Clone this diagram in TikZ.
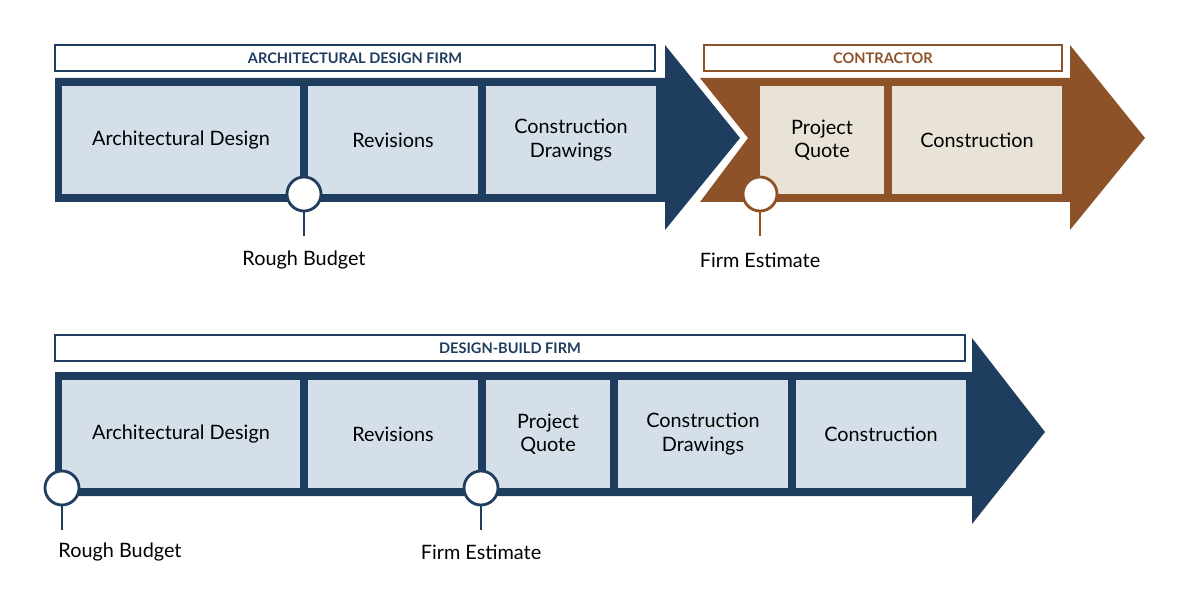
\documentclass[tikz,border=0pt]{standalone}
\usepackage{fontspec}
\setmainfont{Lato}
\definecolor{navy}{HTML}{1F3D5E}
\definecolor{paleblue}{HTML}{D5DFE9}
\definecolor{rust}{HTML}{8E5229}
\definecolor{beige}{HTML}{E9E3D7}
\tikzset{
  stage/.style={fill=paleblue, inner sep=0pt, align=center, font=\fontsize{11.3}{13.3}\selectfont},
  cstage/.style={stage, fill=beige},
  firm/.style={draw=navy, fill=white, line width=0.9pt, inner sep=0pt, text=navy, font=\fontsize{8.3}{10}\selectfont\bfseries},
  milestone/.style={circle, draw=navy, fill=white, line width=1.6pt, minimum size=34*0.02cm, inner sep=0pt},
  note/.style={font=\fontsize{11.3}{13.3}\selectfont}
}
\begin{document}
\begin{tikzpicture}[x=0.02cm, y=-0.02cm]
\useasboundingbox (0,0) rectangle (1200,601);
% top row
\fill[navy] (55,78) -- (665,78) -- (665,45) -- (740,138) -- (665,230) -- (665,202) -- (55,202) -- cycle;
\fill[rust] (700,78) -- (1070,78) -- (1070,45) -- (1145,138) -- (1070,230) -- (1070,202) -- (700,202) -- (748,138) -- cycle;
\node[firm, minimum width=600*0.02cm, minimum height=26*0.02cm] (F_0) at (355,58) {ARCHITECTURAL DESIGN FIRM};
\node[firm, draw=rust, text=rust, minimum width=358*0.02cm, minimum height=26*0.02cm] (F_1) at (883,58) {CONTRACTOR};
\node[stage, minimum width=238*0.02cm, minimum height=108*0.02cm] (S_0_0) at (181,140) {Architectural Design};
\node[stage, minimum width=170*0.02cm, minimum height=108*0.02cm] (S_0_1) at (393,140) {Revisions};
\node[stage, minimum width=170*0.02cm, minimum height=108*0.02cm] (S_0_2) at (571,140) {Construction\\Drawings};
\node[cstage, minimum width=124*0.02cm, minimum height=108*0.02cm] (S_0_3) at (822,140) {Project\\Quote};
\node[cstage, minimum width=170*0.02cm, minimum height=108*0.02cm] (S_0_4) at (977,140) {Construction};
\node[milestone] (M_0_0) at (304,194) {};
\coordinate (C_0_0) at (304,236);
\draw[navy, line width=1.6pt] (M_0_0) -- (C_0_0);
\node[note] (N_0_0) at (304,260) {Rough Budget};
\node[milestone, draw=rust] (M_0_1) at (760,194) {};
\coordinate (C_0_1) at (760,236);
\draw[rust, line width=1.6pt] (M_0_1) -- (C_0_1);
\node[note] (N_0_1) at (760,260) {Firm Estimate};
% bottom row
\fill[navy] (55,372) -- (972,372) -- (972,338) -- (1045,432) -- (972,524) -- (972,496) -- (55,496) -- cycle;
\node[firm, minimum width=910*0.02cm, minimum height=26*0.02cm] (F_2) at (510,348) {DESIGN-BUILD FIRM};
\node[stage, minimum width=238*0.02cm, minimum height=108*0.02cm] (S_1_0) at (181,434) {Architectural Design};
\node[stage, minimum width=170*0.02cm, minimum height=108*0.02cm] (S_1_1) at (393,434) {Revisions};
\node[stage, minimum width=124*0.02cm, minimum height=108*0.02cm] (S_1_2) at (548,434) {Project\\Quote};
\node[stage, minimum width=170*0.02cm, minimum height=108*0.02cm] (S_1_3) at (703,434) {Construction\\Drawings};
\node[stage, minimum width=170*0.02cm, minimum height=108*0.02cm] (S_1_4) at (881,434) {Construction};
\node[milestone] (M_1_0) at (62,488) {};
\coordinate (C_1_0) at (62,530);
\draw[navy, line width=1.6pt] (M_1_0) -- (C_1_0);
\node[note] (N_1_0) at (120,552) {Rough Budget};
\node[milestone] (M_1_1) at (481,488) {};
\coordinate (C_1_1) at (481,530);
\draw[navy, line width=1.6pt] (M_1_1) -- (C_1_1);
\node[note] (N_1_1) at (481,552) {Firm Estimate};
\end{tikzpicture}
\end{document}
